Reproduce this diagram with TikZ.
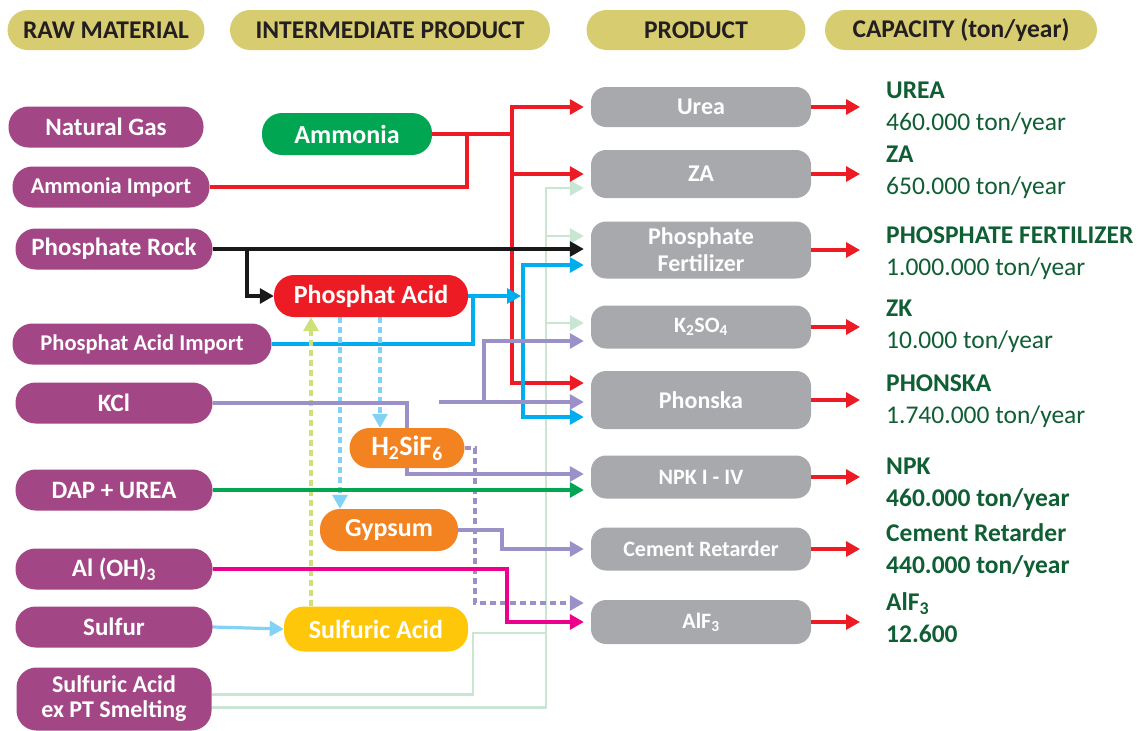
\documentclass[tikz,border=0pt]{standalone}
\usepackage{fontspec}
\setmainfont{Carlito}
\usetikzlibrary{arrows.meta, positioning, backgrounds}
\pgfdeclarelayer{paper}
\pgfsetlayers{paper,background,main}
\definecolor{rawpurple}{RGB}{163, 70, 134}
\definecolor{headkhaki}{RGB}{216, 204, 113}
\definecolor{headtext}{RGB}{35, 31, 32}
\definecolor{prodgray}{RGB}{167, 169, 172}
\definecolor{capgreen}{RGB}{16, 94, 52}
\definecolor{nhgreen}{RGB}{0, 166, 81}
\definecolor{acidred}{RGB}{237, 28, 36}
\definecolor{byorange}{RGB}{243, 130, 32}
\definecolor{sulfyellow}{RGB}{255, 199, 10}
\definecolor{flowblue}{RGB}{0, 174, 239}
\definecolor{lightblue}{RGB}{130, 210, 245}
\definecolor{lavender}{RGB}{155, 145, 200}
\definecolor{flowmagenta}{RGB}{236, 0, 140}
\definecolor{palegreen}{RGB}{200, 230, 210}
\definecolor{limedash}{RGB}{205, 225, 120}

\begin{document}
\begin{tikzpicture}[
    x=1pt, y=-1pt,
    pill/.style={rectangle, rounded corners=20pt, inner sep=0pt, align=center, text=white, font=\bfseries\fontsize{25}{28}\selectfont},
    head/.style={pill, fill=headkhaki, text=headtext, minimum height=40pt, font=\bfseries\fontsize{25.5}{28}\selectfont},
    raw/.style={pill, fill=rawpurple, minimum width=197pt, minimum height=41pt},
    inter/.style={pill, minimum height=42pt, font=\bfseries\fontsize{26}{28}\selectfont},
    prod/.style={pill, fill=prodgray, rounded corners=15pt, minimum width=220pt, minimum height=43pt, font=\bfseries\fontsize{24}{27}\selectfont},
    captext/.style={anchor=west, inner sep=0pt, align=left, text=capgreen, font=\fontsize{25.5}{32}\selectfont},
    flow/.style={line width=3.2pt},
    tip/.style={flow, -{Triangle[length=14pt,width=15pt]}, shorten >=7pt},
    dashflow/.style={dash pattern=on 6pt off 4pt},
]
\begin{pgfonlayer}{paper}
\fill[white] (0,0) rectangle (1144,731);
\end{pgfonlayer}
\useasboundingbox (0,0) rectangle (1144,731);

% Column headers
\node[head, minimum width=197pt] (hraw) at (106,30) {RAW MATERIAL};
\node[head, minimum width=320pt] (hinter) at (390,30) {INTERMEDIATE PRODUCT};
\node[head, minimum width=219pt] (hprod) at (696,30) {PRODUCT};
\node[head, minimum width=272pt] (hcap) at (961,30) {CAPACITY (ton/year)};

% Raw materials
\node[raw, minimum width=195pt] (gas) at (106,127) {Natural Gas};
\node[raw, font=\bfseries\fontsize{22.5}{26}\selectfont] (nh3imp) at (111,187) {Ammonia Import};
\node[raw] (rock) at (114,249) {Phosphate Rock};
\node[raw, minimum width=259pt, font=\bfseries\fontsize{22.5}{26}\selectfont] (paimp) at (142,344) {Phosphat Acid Import};
\node[raw] (kcl) at (114,403) {KCl};
\node[raw] (dap) at (114,490) {DAP + UREA};
\node[raw] (aloh) at (114,569) {Al (OH)\textsubscript{3}};
\node[raw] (sulfur) at (114,627) {Sulfur};
\node[raw, minimum width=195pt, minimum height=63pt, font=\bfseries\fontsize{24}{25}\selectfont] (smelt) at (114,699) {Sulfuric Acid\\ex PT Smelting};

% Intermediate products
\node[inter, fill=nhgreen, minimum width=170pt] (nh3) at (347,134) {Ammonia};
\node[inter, fill=acidred, minimum width=194pt] (pa) at (371,296) {Phosphat Acid};
\node[inter, fill=byorange, minimum width=115pt, minimum height=40pt, font=\bfseries\fontsize{28}{30}\selectfont] (hsif) at (407,448) {H\textsubscript{2}SiF\textsubscript{6}};
\node[inter, fill=byorange, minimum width=138pt] (gyp) at (389,530) {Gypsum};
\node[inter, fill=sulfyellow, minimum width=184pt, minimum height=45pt] (sa) at (376,629) {Sulfuric Acid};

% Products
\node[prod, minimum height=40pt] (urea) at (701,107) {Urea};
\node[prod, minimum height=48pt] (za) at (701,174) {ZA};
\node[prod, minimum height=57pt] (pf) at (701,250) {Phosphate\\Fertilizer};
\node[prod, font=\bfseries\fontsize{22}{26}\selectfont] (kso) at (701,327) {K\textsubscript{2}SO\textsubscript{4}};
\node[prod, minimum height=58pt] (phon) at (701,400) {Phonska};
\node[prod, font=\bfseries\fontsize{22}{26}\selectfont] (npk) at (701,477) {NPK I - IV};
\node[prod, font=\bfseries\fontsize{22}{26}\selectfont] (cem) at (701,549) {Cement Retarder};
\node[prod, minimum height=44pt, font=\bfseries\fontsize{22}{26}\selectfont] (alf) at (701,622) {AlF\textsubscript{3}};

% Capacities
\node[captext] (curea) at (886,108) {\textbf{UREA}\\460.000 ton/year};
\node[captext] (cza) at (886,172) {\textbf{ZA}\\650.000 ton/year};
\node[captext] (cpf) at (886,253) {\textbf{PHOSPHATE FERTILIZER}\\1.000.000 ton/year};
\node[captext] (ckso) at (886,326) {\textbf{ZK}\\10.000 ton/year};
\node[captext] (cphon) at (886,401) {\textbf{PHONSKA}\\1.740.000 ton/year};
\node[captext, font=\bfseries\fontsize{25.5}{32}\selectfont] (cnpk) at (886,484) {NPK\\460.000 ton/year};
\node[captext, font=\bfseries\fontsize{25.5}{32}\selectfont] (ccem) at (886,551) {Cement Retarder\\440.000 ton/year};
\node[captext, font=\bfseries\fontsize{25.5}{32}\selectfont] (calf) at (886,618) {AlF\textsubscript{3}\\12.600};

% Junctions of the flow lines
\coordinate (nh3j) at (467,134);
\coordinate (redtop) at (512,107);
\coordinate (redbot) at (512,383);
\coordinate (rockj) at (247,249);
\coordinate (bluej) at (473,296);
\coordinate (bluetop) at (523,265);
\coordinate (bluebot) at (523,417);
\coordinate (palej) at (473,633);
\coordinate (paletop) at (546,188);
\coordinate (palepf) at (546,236);
\coordinate (palekso) at (546,323);
\coordinate (kclj) at (407,474);
\coordinate (lavstart) at (439,402);
\coordinate (lavj) at (484,402);
\coordinate (lavk) at (484,341);
\coordinate (gypj) at (502,530);
\coordinate (hsifj) at (475,603);
\coordinate (alohj) at (507,622);

\begin{scope}[on background layer]
% Sulfuric acid ex smelting
\draw[flow, palegreen, line width=2.6pt] ([yshift=4.5pt]smelt.east) -| (palej) -- (palej -| paletop);
\draw[tip, palegreen, line width=2.6pt] ([yshift=-8.5pt]smelt.east) -| (paletop) -- (paletop -| za.west);
\draw[tip, palegreen, line width=2.6pt] (palepf) -- (palepf -| pf.west);
\draw[tip, palegreen, line width=2.6pt] (palekso) -- (palekso -| kso.west);

% Ammonia
\draw[flow, acidred] (nh3imp.east) -| (nh3j);
\draw[flow, acidred] (nh3.east) -- (redtop |- nh3.east);
\draw[tip, acidred] (redbot) -- (redtop) -- (redtop -| urea.west);
\draw[tip, acidred] (redtop) -- (redbot) -- (redbot -| phon.west);
\draw[tip, acidred] (redtop |- za.west) -- (za.west);

% Phosphate rock
\draw[tip, black!90] (rock.east) -- (rock.east -| pf.west);
\draw[tip, black!90, shorten >=0pt] (rockj) |- (pa.west);

% Phosphat acid
\draw[flow, flowblue] (paimp.east) -| (bluej);
\draw[flow, flowblue] (pa.east) -- (bluej);
\draw[tip, flowblue, shorten >=2pt] (bluej) -- (bluej -| bluetop);
\draw[tip, flowblue] (bluebot) -- (bluetop) -- (bluetop -| pf.west);
\draw[tip, flowblue] (bluetop) -- (bluebot) -- (bluebot -| phon.west);
\draw[tip, lightblue, dashflow, shorten >=0pt] ([xshift=-31pt]pa.south) -- ([xshift=-31pt]pa.south |- gyp.north);
\draw[tip, lightblue, dashflow, shorten >=0pt] ([xshift=9pt]pa.south) -- ([xshift=9pt]pa.south |- hsif.north);
\draw[tip, limedash, dashflow, shorten >=0pt] ([xshift=-65pt]sa.north) -- ([xshift=-65pt]sa.north |- pa.south);

% KCl and by-products
\draw[tip, lavender] (kcl.east) -| (kclj) -- (kclj -| npk.west);
\draw[tip, lavender] (lavstart) -- (lavstart -| phon.west);
\draw[tip, lavender] (lavj) -- (lavk) -- (lavk -| kso.west);
\draw[tip, lavender] (gyp.east) -- (gypj) |- (cem.west);
\draw[tip, lavender, dashflow] (hsif.east) -| (hsifj) -- (hsifj -| alf.west);

% Other raw materials
\draw[tip, nhgreen] (dap.east) -- (dap.east -| npk.west);
\draw[tip, flowmagenta] (aloh.east) -| (alohj) -- (alohj -| alf.west);
\draw[tip, lightblue, shorten >=0pt] (sulfur.east) -- (sa.west);
\end{scope}

% Product to capacity
\foreach \p in {urea, za, pf, kso, phon, npk, cem, alf}
  \draw[tip, acidred, shorten >=26pt] (\p.east) -- (\p.east -| c\p.west);

\end{tikzpicture}
\end{document}
